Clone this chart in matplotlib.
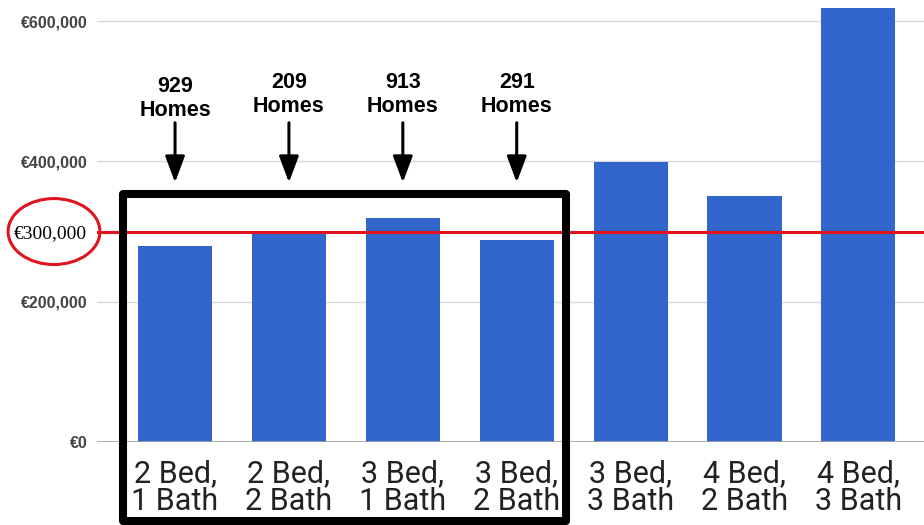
import matplotlib
matplotlib.use("Agg")
import matplotlib.pyplot as plt
from matplotlib.patches import Ellipse, Rectangle
from matplotlib.transforms import blended_transform_factory

# Median price by home type
categories = ["2 Bed,\n1 Bath", "2 Bed,\n2 Bath", "3 Bed,\n1 Bath", "3 Bed,\n2 Bath",
              "3 Bed,\n3 Bath", "4 Bed,\n2 Bath", "4 Bed,\n3 Bath"]
prices = [279000, 296000, 319000, 288000, 399000, 350000, 619000]

# Number of homes for the highlighted types
home_counts = [929, 209, 913, 291]

y_ticks = [0, 200000, 300000, 400000, 600000]
threshold = 300000

BLUE = "#3366CC"
RED = "#E0141E"

fig = plt.figure(figsize=(9.24, 5.25), dpi=100)
ax = fig.add_axes([0.105, 0.158, 0.895, 0.842])

x = list(range(len(categories)))
ax.bar(x, prices, width=0.65, color=BLUE, zorder=2)

ax.set_xlim(-0.685, 6.576)
ax.set_ylim(0, 630000)

# gridlines only at labelled values
for v in [200000, 400000, 600000]:
    ax.axhline(v, color="#d9d9d9", lw=1, zorder=0)
ax.axhline(0, color="#a0a0a0", lw=1.2, zorder=3)

for s in ax.spines.values():
    s.set_visible(False)

ax.set_xticks(x)
ax.set_xticklabels(categories, fontsize=22, family="Roboto", color="#222222",
                   linespacing=0.95, va="top")
ax.tick_params(axis="x", length=0, pad=12)

ax.set_yticks(y_ticks)
ax.set_yticklabels([f"€{v:,}" for v in y_ticks])
ax.tick_params(axis="y", length=0, pad=7)
for v, lab in zip(y_ticks, ax.get_yticklabels()):
    if v == threshold:
        lab.set_fontfamily("Liberation Serif")
        lab.set_fontsize(14)
        lab.set_color("black")
    else:
        lab.set_fontfamily("Liberation Sans")
        lab.set_fontweight("bold")
        lab.set_fontsize(11.5)
        lab.set_color("#444444")

# threshold line and circled label
ax.axhline(threshold, color=RED, lw=2.2, zorder=4)
bt = blended_transform_factory(ax.transAxes, ax.transData)
ax.add_patch(Ellipse((-0.052, threshold), width=0.111, height=94000, transform=bt,
                     fill=False, edgecolor=RED, lw=2.2, clip_on=False, zorder=5))

# box around the highlighted home types
ax.add_patch(Rectangle((-0.461, -112000), 3.894, 466000, fill=False,
                       edgecolor="black", lw=5.8, joinstyle="round",
                       clip_on=False, zorder=6))

# counts with arrows pointing down at each bar
for i, n in enumerate(home_counts):
    ty = 490000 if i == 0 else 495000
    ax.text(i, ty, f"{n}\nHomes", ha="center", va="center", fontsize=15.5,
            fontweight="bold", family="Liberation Sans", linespacing=1.2, zorder=7)
    ax.annotate("", xy=(i, 370000), xytext=(i, 455000),
                arrowprops=dict(arrowstyle="-|>,head_width=0.6,head_length=1.6",
                                color="black", lw=2.2, shrinkA=0, shrinkB=0),
                zorder=7)

fig.savefig("out.png", dpi=100)
